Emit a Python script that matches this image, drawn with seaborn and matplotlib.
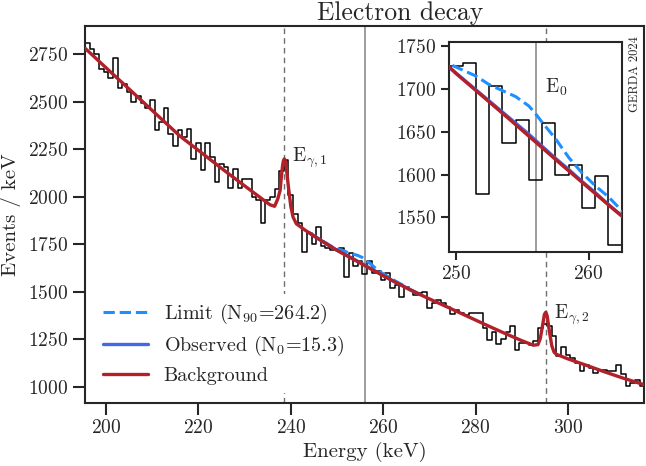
import numpy as np
import pandas as pd
import seaborn as sns
import matplotlib.pyplot as plt

sns.set_style("ticks")
plt.rcParams.update({
    "font.family": ["cmr10", "DejaVu Serif"],
    "mathtext.fontset": "cm",
    "axes.formatter.use_mathtext": True,
    "axes.unicode_minus": False,
})

# histogram, 1 keV bins centred on integer energies
energy = list(range(196, 317))
counts = [
    2813, 2778, 2750, 2671, 2655, 2624, 2732, 2574, 2597, 2553,  # 196-205
    2497, 2531, 2492, 2469, 2509, 2352, 2393, 2469, 2329, 2269,  # 206-215
    2350, 2313, 2355, 2197, 2282, 2141, 2282, 2208, 2079, 2173,  # 216-225
    2158, 2045, 2145, 2045, 2092, 2092, 2001, 1983, 1864, 1983,  # 226-235
    2000, 2040, 2137, 2194, 2010, 1910, 1862, 1707, 1810, 1750,  # 236-245
    1843, 1740, 1730, 1720, 1727, 1730, 1577, 1703, 1637, 1664,  # 246-255
    1594, 1660, 1600, 1611, 1561, 1598, 1518, 1536, 1474, 1527,  # 256-265
    1509, 1483, 1495, 1501, 1413, 1440, 1455, 1440, 1420, 1385,  # 266-275
    1405, 1387, 1375, 1390, 1390, 1388, 1308, 1246, 1285, 1222,  # 276-285
    1250, 1290, 1320, 1194, 1229, 1229, 1220, 1238, 1308, 1330,  # 286-295
    1320, 1264, 1160, 1211, 1165, 1150, 1124, 1080, 1115, 1100,  # 296-305
    1072, 1090, 1085, 1080, 1083, 1112, 1065, 1005, 1020, 1036,  # 306-315
    1005,                                                        # 316
]
edges = [e - 0.5 for e in energy] + [energy[-1] + 0.5]
hist_df = pd.DataFrame({"energy": energy, "counts": counts})

# background model
bkg_e = [195.5, 200, 205, 210, 216, 220, 225, 230, 234, 235.5, 236.5, 237.2,
         237.7, 237.9, 238.2, 238.4, 238.6, 238.8, 239.0, 239.5, 240.0, 240.5,
         241.2, 243, 246, 250, 254, 258, 262, 266, 270, 274, 278, 282, 286,
         290, 292.5, 293.5, 294.0, 294.5, 294.9, 295.2, 295.5, 296.0, 296.5,
         297.0, 297.5, 300, 304, 308, 312, 316.5]
bkg_v = [2782, 2680, 2568, 2455, 2320, 2245, 2150, 2058, 1985, 1958, 1950, 1990,
         2035, 2090, 2160, 2190, 2200, 2190, 2160, 2050, 1950, 1893,
         1858, 1826, 1778, 1718, 1665, 1611, 1558, 1508, 1462, 1418, 1373, 1328, 1284,
         1242, 1218, 1221, 1252, 1322, 1380, 1392, 1372, 1288, 1215,
         1181, 1170, 1146, 1112, 1077, 1044, 1010]

# signal curves around E0
sig_e = [244, 246, 248, 249.5, 250.5, 251.5, 252.5, 253.5, 254.5, 255.5, 256,
         256.5, 257.5, 258.5, 259.5, 260.5, 261.5, 262.5, 264, 266, 268]
limit_v = [1811, 1780, 1751, 1729, 1722, 1715, 1705, 1698, 1691, 1680, 1671,
           1661, 1642, 1620, 1602, 1587, 1574, 1558, 1538, 1510, 1486]
obs_v = [1810, 1778, 1748, 1725, 1712, 1699, 1686, 1673, 1660, 1647, 1640,
         1633, 1619, 1606, 1592, 1579, 1565, 1552, 1534, 1508, 1485]

E0 = 256.0
E_gamma = [238.6, 295.2]

RED = "#b2202a"
LIMIT = "#1e8fff"
OBS = "#4169e1"

fig = plt.figure(figsize=(6.46, 4.66), dpi=100)
ax = fig.add_axes([0.1319, 0.1358, 0.8653, 0.8084])
axin = fig.add_axes([0.6955, 0.4599, 0.2669, 0.4506])


def draw(a, ticklen):
    sns.histplot(data=hist_df, x="energy", weights="counts", bins=edges,
                 element="step", fill=False, color="black", linewidth=1.1,
                 ax=a, zorder=2)
    sns.lineplot(x=sig_e, y=limit_v, ax=a, color=LIMIT, lw=2.2, ls="--", zorder=3,
                 label=r"Limit (N$_{90}$=264.2)")
    sns.lineplot(x=sig_e, y=obs_v, ax=a, color=OBS, lw=2.4, zorder=3.5,
                 label=r"Observed (N$_0$=15.3)")
    sns.lineplot(x=bkg_e, y=bkg_v, ax=a, color=RED, lw=2.4, zorder=4,
                 label="Background")
    a.axvline(E0, color="#8c8c8c", lw=1.2, zorder=1)
    for e in E_gamma:
        a.axvline(e, color="#6e6e6e", lw=1.0, ls=(0, (4, 3)), zorder=1)
    a.tick_params(direction="out", length=ticklen, width=1.5, labelsize=14,
                  pad=3.5, top=False, right=False)
    for s in a.spines.values():
        s.set_linewidth(1.5)
        s.set_visible(True)
    a.set_xlabel("")
    a.set_ylabel("")


draw(ax, 8.5)
draw(axin, 6)

ax.set_xlim(195.5, 316.5)
ax.set_ylim(915, 2900)
ax.set_xticks([200, 220, 240, 260, 280, 300])
ax.set_yticks([1000, 1250, 1500, 1750, 2000, 2250, 2500, 2750])
ax.set_xlabel("Energy (keV)", fontsize=15, labelpad=3)
ax.set_ylabel("Events / keV", fontsize=15, labelpad=5)

ax.text(240.3, 2205, r"E$_{\gamma,1}$", fontsize=14, ha="left", va="center")
ax.text(297.0, 1378, r"E$_{\gamma,2}$", fontsize=14, ha="left", va="center")
ax.text(0.9835, 0.972, "GERDA 2024", transform=ax.transAxes, rotation=90,
        fontsize=9, ha="center", va="top")

handles, labels = ax.get_legend_handles_labels()
ax.legend(handles, labels, loc="lower left", fontsize=14.5, frameon=True,
          facecolor="white", edgecolor="none", framealpha=1, fancybox=False,
          handlelength=2.2, handletextpad=0.8, labelspacing=0.4,
          borderaxespad=0.5)

axin.set_xlim(249.5, 262.5)
axin.set_ylim(1510, 1755)
axin.set_xticks([250, 260])
axin.set_yticks([1550, 1600, 1650, 1700, 1750])
axin.set_facecolor("white")
if axin.get_legend() is not None:
    axin.get_legend().remove()
axin.text(256.7, 1702, r"E$_0$", fontsize=14, ha="left", va="center")

fig.text(0.619, 0.972, "Electron decay", ha="center", va="center", fontsize=18.5)

fig.savefig("out.png", dpi=100)
